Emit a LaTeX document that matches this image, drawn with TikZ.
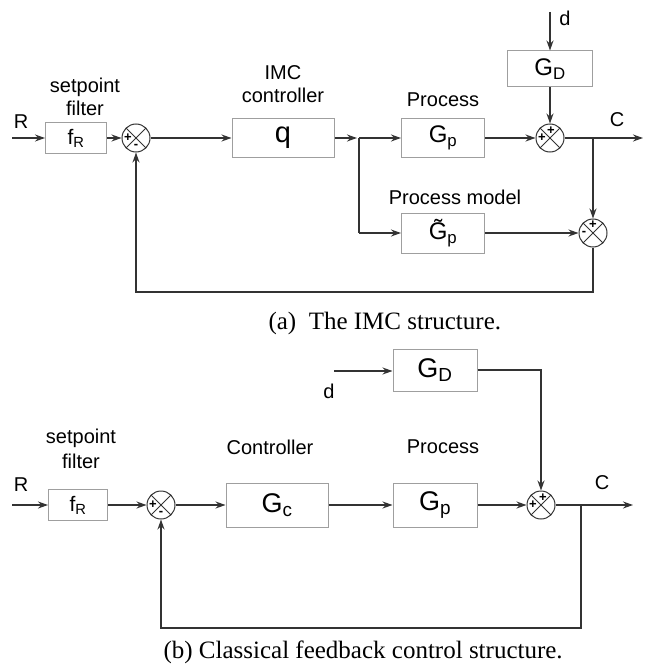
\documentclass[tikz,border=0pt]{standalone}
\usepackage{fontspec}
\setmainfont{Liberation Sans}
\newfontfamily\capfont{Liberation Serif}
\usetikzlibrary{arrows.meta, positioning, calc}

\begin{document}
\begin{tikzpicture}[
    x=1pt, y=-1pt,
    block/.style={rectangle, draw=gray!75, line width=1pt, inner sep=0pt, font=\fontsize{24}{26}\selectfont},
    sumjn/.style={circle, draw=black!80, line width=1pt, minimum size=28pt, inner sep=0pt,
        path picture={\draw[black!80, line width=1pt] (path picture bounding box.north west) -- (path picture bounding box.south east)
            (path picture bounding box.north east) -- (path picture bounding box.south west);}},
    sign/.style={font=\fontsize{13}{13}\selectfont\bfseries, inner sep=0pt},
    lbl/.style={font=\fontsize{20}{23}\selectfont, align=center},
    caption/.style={font=\capfont\fontsize{25}{27}\selectfont},
    line/.style={draw=black!80, line width=1.3pt},
    arrow/.style={line, -{Stealth[length=10pt, width=7pt]}}
]
\useasboundingbox (0,0) rectangle (645,666);

% (a) IMC structure
\coordinate (ra) at (12,138);
\node[block, minimum width=61pt, minimum height=31pt, font=\fontsize{21}{23}\selectfont] (fra) at (76,138) {f\textsubscript{R}};
\node[sumjn] (s1a) at (136,138) {};
\node[block, minimum width=102pt, minimum height=39pt, font=\fontsize{29}{31}\selectfont] (qa) at (283,138) {q};
\coordinate (ja) at (359,138);
\node[block, minimum width=83pt, minimum height=38pt] (gpa) at (443,138) {G\textsubscript{p}};
\node[block, minimum width=85pt, minimum height=36pt] (gda) at (550,69) {G\textsubscript{D}};
\coordinate (da) at (550,12);
\node[sumjn] (s2a) at (550,138) {};
\coordinate (jca) at (593,138);
\coordinate (ca) at (643,138);
\node[sumjn] (s3a) at (593,233) {};
\node[block, minimum width=83pt, minimum height=40pt] (gma) at (443,233) {\~{G}\textsubscript{p}};
\coordinate (jma) at (359,233);
\coordinate (fba) at (593,292);

% labels (a)
\node[lbl] (rla) at (21,122) {R};
\node[lbl] (sfa) at (85,97) {setpoint\\filter};
\node[lbl] (imca) at (283,84) {IMC\\controller};
\node[lbl] (pra) at (443,100) {Process};
\node[lbl] (pma) at (455,197) {Process model};
\node[lbl] (dla) at (565,18) {d};
\node[lbl] (cla) at (617,120) {C};

% signs (a)
\node[sign] (s1ap) at ([xshift=-8pt]s1a.center) {+};
\node[sign] (s1am) at ([yshift=-8pt]s1a.center) {-};
\node[sign] (s2ap) at ([xshift=-8pt]s2a.center) {+};
\node[sign] (s2aq) at ([xshift=1pt, yshift=7pt]s2a.center) {+};
\node[sign] (s3ap) at ([yshift=8pt]s3a.center) {+};
\node[sign] (s3am) at ([xshift=-9pt]s3a.center) {-};

% connectors (a)
\draw[arrow] (ra) -- (fra);
\draw[arrow] (fra) -- (s1a);
\draw[arrow] (s1a) -- (qa);
\draw[arrow] (qa) -- ([xshift=-2pt]ja);
\draw[arrow] (ja) -- (gpa);
\draw[arrow] (gpa) -- (s2a);
\draw[arrow] (da) -- (gda);
\draw[arrow] (gda) -- (s2a);
\draw[line] (s2a) -- (jca);
\draw[arrow] (jca) -- (ca);
\draw[arrow] (jca) -- (s3a);
\draw[line] (ja) -- (jma);
\draw[arrow] (jma) -- (gma);
\draw[arrow] (gma) -- (s3a);
\draw[arrow] (s3a) -- (fba) -| (s1a);

\node[caption, anchor=west] (capa) at (265,323) {(a)\ \ The IMC structure.};

% (b) classical feedback structure
\coordinate (rb) at (12,505);
\node[block, minimum width=59pt, minimum height=31pt, font=\fontsize{21}{23}\selectfont] (frb) at (78,505) {f\textsubscript{R}};
\node[sumjn] (s1b) at (161,505) {};
\node[block, minimum width=102pt, minimum height=44pt, font=\fontsize{27}{29}\selectfont] (gcb) at (277,505) {G\textsubscript{c}};
\node[block, minimum width=84pt, minimum height=44pt, font=\fontsize{27}{29}\selectfont] (gpb) at (435,505) {G\textsubscript{p}};
\node[sumjn] (s2b) at (541,505) {};
\node[block, minimum width=84pt, minimum height=42pt, font=\fontsize{27}{29}\selectfont] (gdb) at (435,370) {G\textsubscript{D}};
\coordinate (db) at (334,371);
\coordinate (jcb) at (581,505);
\coordinate (cb) at (633,505);
\coordinate (fbb) at (581,628);

% labels (b)
\node[lbl] (rlb) at (21,485) {R};
\node[lbl, font=\fontsize{20}{25}\selectfont] (sfb) at (81,449) {setpoint\\filter};
\node[lbl] (ctlb) at (270,447) {Controller};
\node[lbl] (prb) at (443,447) {Process};
\node[lbl] (dlb) at (329,391) {d};
\node[lbl] (clb) at (602,483) {C};

% signs (b)
\node[sign] (s1bp) at ([xshift=-8pt]s1b.center) {+};
\node[sign] (s1bm) at ([yshift=-8pt]s1b.center) {-};
\node[sign] (s2bp) at ([xshift=-8pt]s2b.center) {+};
\node[sign] (s2bq) at ([xshift=2pt, yshift=7pt]s2b.center) {+};

% connectors (b)
\draw[arrow] (rb) -- (frb);
\draw[arrow] (frb) -- (s1b);
\draw[arrow] (s1b) -- (gcb);
\draw[arrow] (gcb) -- (gpb);
\draw[arrow] (gpb) -- (s2b);
\draw[arrow] (db) -- (db -| gdb.west);
\draw[arrow] (gdb) -| (s2b);
\draw[line] (s2b) -- (jcb);
\draw[arrow] (jcb) -- (cb);
\draw[arrow] (jcb) -- (fbb) -| (s1b);

\node[caption, anchor=west] (capb) at (160,652) {(b) Classical feedback control structure.};

\end{tikzpicture}
\end{document}
